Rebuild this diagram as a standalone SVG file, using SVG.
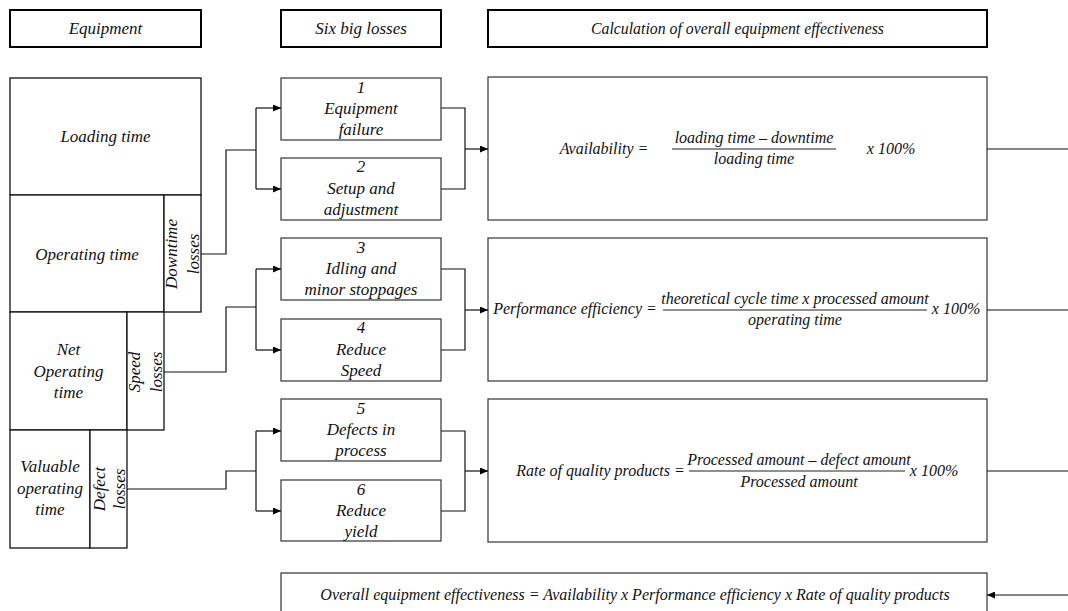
<svg xmlns="http://www.w3.org/2000/svg" width="1068" height="611" viewBox="0 0 1068 611">
<defs>
<marker id="ah" markerUnits="userSpaceOnUse" markerWidth="9" markerHeight="7" refX="8" refY="3.5" orient="auto"><path d="M0,0 L8,3.5 L0,7 z" fill="#000"/></marker>
<style>
text{font-family:"Liberation Serif","Times New Roman",serif;font-style:italic;fill:#111;text-anchor:middle}
.lb{font-size:17px}
.fm{font-size:16px}
.hd{fill:#fff;stroke:#000;stroke-width:2}
.bx{fill:#fff;stroke:#333;stroke-width:1.2}
.eq{fill:#fff;stroke:#111;stroke-width:1.3}
.cn{fill:none;stroke:#111;stroke-width:1.2}
.ar{fill:none;stroke:#111;stroke-width:1.2;marker-end:url(#ah)}
.fl{stroke:#222;stroke-width:1.2}
</style>
</defs>
<rect width="1068" height="611" fill="#fff"/>
<g id="header-equipment"><rect class="hd" x="10" y="10" width="191" height="37"/><text class="lb" x="105.5" y="34">Equipment</text></g>
<g id="header-losses"><rect class="hd" x="281" y="10" width="160" height="37"/><text class="lb" x="361" y="34">Six big losses</text></g>
<g id="header-calc"><rect class="hd" x="488" y="10" width="499" height="37"/><text class="lb" x="737.5" y="34" style="font-size:15.8px">Calculation of overall equipment effectiveness</text></g>

<g id="loading-time"><rect class="eq" x="10" y="78" width="191" height="117"/><text class="lb" x="105.5" y="142">Loading time</text></g>
<g id="operating-time"><rect class="eq" x="10" y="195" width="154" height="117"/><text class="lb" x="87" y="260">Operating time</text></g>
<g id="downtime-losses"><rect class="eq" x="164" y="195" width="37" height="117"/><text class="lb" transform="translate(177,254) rotate(-90)">Downtime</text><text class="lb" transform="translate(199,254) rotate(-90)">losses</text></g>
<g id="net-operating-time"><rect class="eq" x="10" y="312" width="117" height="118"/><text class="lb" x="68.5" y="355">Net</text><text class="lb" x="68.5" y="377">Operating</text><text class="lb" x="68.5" y="398">time</text></g>
<g id="speed-losses"><rect class="eq" x="127" y="312" width="37" height="118"/><text class="lb" transform="translate(140,372) rotate(-90)">Speed</text><text class="lb" transform="translate(162,372) rotate(-90)">losses</text></g>
<g id="valuable-operating-time"><rect class="eq" x="10" y="430" width="80" height="118"/><text class="lb" x="50" y="472">Valuable</text><text class="lb" x="50" y="494">operating</text><text class="lb" x="50" y="515">time</text></g>
<g id="defect-losses"><rect class="eq" x="90" y="430" width="37" height="118"/><text class="lb" transform="translate(105,489) rotate(-90)">Defect</text><text class="lb" transform="translate(125,489) rotate(-90)">losses</text></g>

<g id="loss-1"><rect class="bx" x="281" y="78" width="160" height="62"/><text class="lb" x="361" y="93">1</text><text class="lb" x="361" y="114">Equipment</text><text class="lb" x="361" y="135">failure</text></g>
<g id="loss-2"><rect class="bx" x="281" y="158" width="160" height="62"/><text class="lb" x="361" y="172">2</text><text class="lb" x="361" y="194">Setup and</text><text class="lb" x="361" y="215">adjustment</text></g>
<g id="loss-3"><rect class="bx" x="281" y="238" width="160" height="62"/><text class="lb" x="361" y="253">3</text><text class="lb" x="361" y="274">Idling and</text><text class="lb" x="361" y="295">minor stoppages</text></g>
<g id="loss-4"><rect class="bx" x="281" y="319" width="160" height="62"/><text class="lb" x="361" y="333">4</text><text class="lb" x="361" y="355">Reduce</text><text class="lb" x="361" y="376">Speed</text></g>
<g id="loss-5"><rect class="bx" x="281" y="399" width="160" height="62"/><text class="lb" x="361" y="414">5</text><text class="lb" x="361" y="435">Defects in</text><text class="lb" x="361" y="456">process</text></g>
<g id="loss-6"><rect class="bx" x="281" y="480" width="160" height="61"/><text class="lb" x="361" y="495">6</text><text class="lb" x="361" y="516">Reduce</text><text class="lb" x="361" y="537">yield</text></g>

<g id="availability"><rect class="bx" x="488" y="77" width="499" height="143"/>
<text class="fm" x="604" y="154">Availability =</text>
<text class="fm" x="754" y="143">loading time – downtime</text>
<line class="fl" x1="672" y1="149" x2="836" y2="149"/>
<text class="fm" x="754" y="164">loading time</text>
<text class="fm" x="891" y="154">x 100%</text></g>

<g id="performance"><rect class="bx" x="488" y="238" width="499" height="143"/>
<text class="fm" x="575" y="314">Performance efficiency =</text>
<text class="fm" x="795" y="304">theoretical cycle time x processed amount</text>
<line class="fl" x1="663" y1="310" x2="927" y2="310"/>
<text class="fm" x="795" y="325">operating time</text>
<text class="fm" x="956" y="314">x 100%</text></g>

<g id="quality"><rect class="bx" x="488" y="399" width="499" height="143"/>
<text class="fm" x="600.5" y="476">Rate of quality products =</text>
<text class="fm" x="799" y="465">Processed amount – defect amount</text>
<line class="fl" x1="689" y1="471" x2="905" y2="471"/>
<text class="fm" x="799" y="487">Processed amount</text>
<text class="fm" x="934" y="476">x 100%</text></g>

<g id="oee"><rect class="bx" x="281" y="573" width="706" height="44"/>
<text class="fm" x="635" y="600">Overall equipment effectiveness = Availability x Performance efficiency x Rate of quality products</text></g>

<g id="connectors">
<path class="cn" d="M201,254 H226 V150 H256 M256,108 V189 M441,108 H465 V189 H441"/>
<path class="ar" d="M256,108 H281"/><path class="ar" d="M256,189 H281"/><path class="ar" d="M465,149 H488"/>
<path class="cn" d="M164,372 H226 V307 H256 M256,269 V350 M441,269 H465 V350 H441"/>
<path class="ar" d="M256,269 H281"/><path class="ar" d="M256,350 H281"/><path class="ar" d="M465,310 H488"/>
<path class="cn" d="M127,489 H226 V471 H256 M256,431 V511 M441,431 H465 V511 H441"/>
<path class="ar" d="M256,431 H281"/><path class="ar" d="M256,511 H281"/><path class="ar" d="M465,471 H488"/>
<path class="cn" d="M987,149 H1068 M987,310 H1068 M987,471 H1068"/>
<path class="ar" d="M1068,595 H987"/>
</g>
</svg>
